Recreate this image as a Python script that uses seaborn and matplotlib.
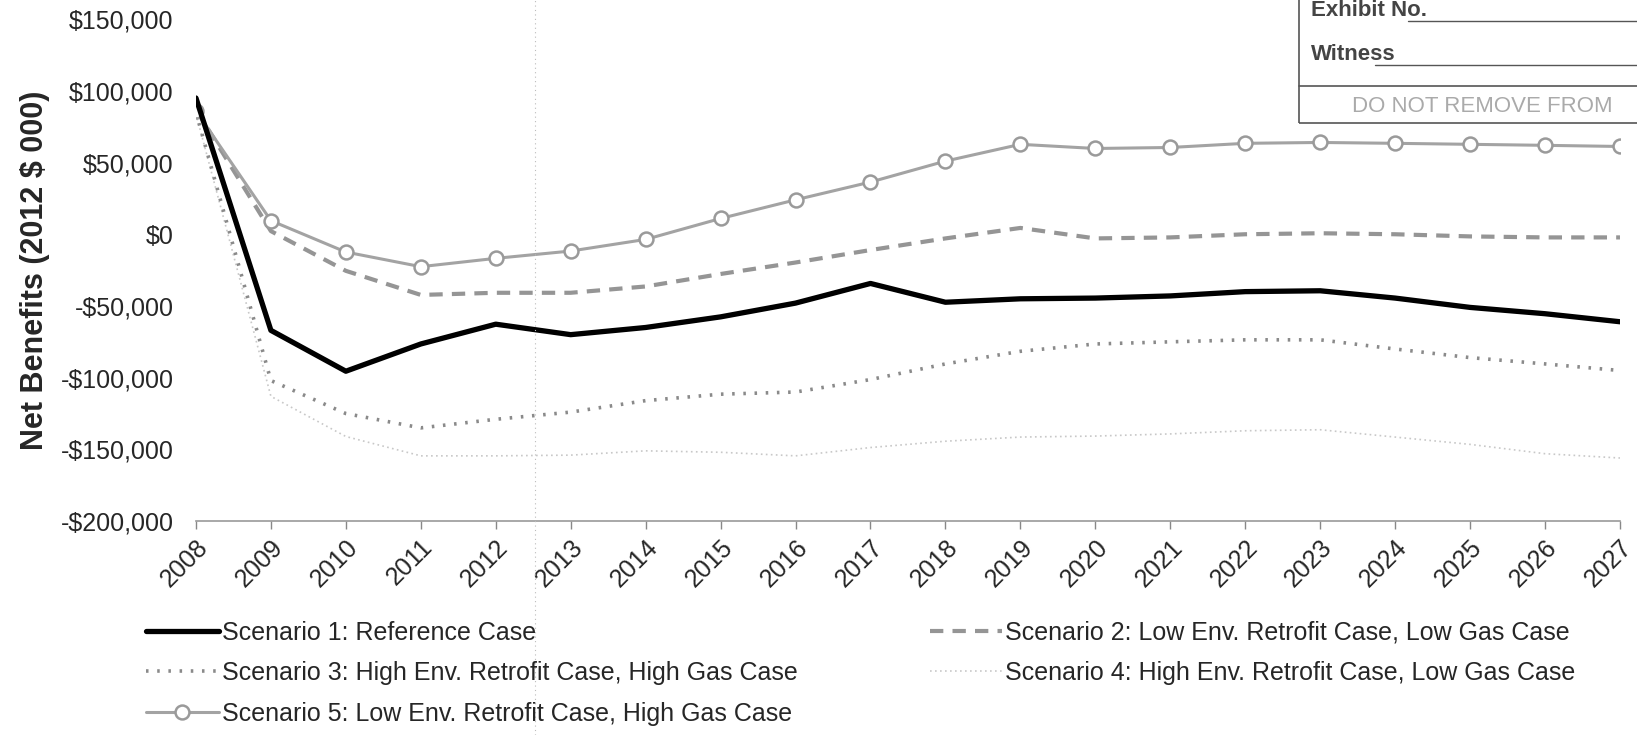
import matplotlib
matplotlib.use("Agg")
import matplotlib.pyplot as plt
import matplotlib.ticker as mticker
from matplotlib.lines import Line2D
from matplotlib.patches import Rectangle
import seaborn as sns
import pandas as pd

years = list(range(2008, 2028))

scenario1 = [95000, -67000, -95500, -76500, -62700, -70000, -65000, -57600, -48000, -34300,
             -47400, -45000, -44500, -43000, -40000, -39400, -44500, -51000, -55400, -61000]
scenario2 = [87000, 2200, -25500, -42300, -40800, -40800, -36400, -27700, -19700, -11000,
             -2900, 4400, -2900, -2200, 0, 700, 0, -1500, -2200, -2200]
scenario3 = [85000, -102000, -125000, -135000, -129000, -124000, -116000, -111500, -110000, -101300,
             -90400, -81600, -76500, -75000, -73600, -73600, -80000, -86000, -90400, -95000]
scenario4 = [84000, -113000, -141000, -154500, -154500, -154000, -151000, -152000, -154500, -148700,
             -144300, -141400, -140700, -139200, -137000, -136300, -141400, -146500, -153000, -156000]
scenario5 = [86000, 9500, -12400, -22600, -16800, -11700, -3600, 11000, 24000, 36400,
             51000, 62700, 59800, 60500, 63400, 64000, 63400, 62700, 62000, 61200]

labels = ["Scenario 1: Reference Case",
          "Scenario 2: Low Env. Retrofit Case, Low Gas Case",
          "Scenario 3: High Env. Retrofit Case, High Gas Case",
          "Scenario 4: High Env. Retrofit Case, Low Gas Case",
          "Scenario 5: Low Env. Retrofit Case, High Gas Case"]

y_ticks = [-200000, -150000, -100000, -50000, 0, 50000, 100000, 150000]

sns.set_theme(style="white")
plt.rcParams['font.family'] = ['Liberation Sans', 'DejaVu Sans']

fig = plt.figure(figsize=(16.37, 7.35), dpi=100)
ax = fig.add_axes([0.1197, 0.291, 0.8699, 0.683])

df = pd.DataFrame({"year": years, "s1": scenario1, "s2": scenario2, "s3": scenario3,
                   "s4": scenario4, "s5": scenario5})

st4 = dict(color="#c8c8c8", lw=1.2, linestyle=(0, (1, 2)))
st3 = dict(color="#8a8a8a", lw=2.6, linestyle=(0, (0.7, 2.4)))
st2 = dict(color="#959595", lw=3, linestyle=(0, (3.2, 2.2)))
st5 = dict(color="#a3a3a3", lw=2.2, marker="o", markersize=10, markerfacecolor="white",
           markeredgecolor="#9a9a9a", markeredgewidth=1.8)
st1 = dict(color="black", lw=3.8)

sns.lineplot(data=df, x="year", y="s4", ax=ax, **st4)
sns.lineplot(data=df, x="year", y="s3", ax=ax, **st3)
sns.lineplot(data=df, x="year", y="s2", ax=ax, **st2)
sns.lineplot(data=df, x="year", y="s5", ax=ax, **st5)
sns.lineplot(data=df, x="year", y="s1", ax=ax, **st1)

ax.set_xlim(2008, 2027)
ax.set_ylim(-200000, 150000)
ax.set_xticks(years)
ax.set_xticklabels([str(y) for y in years], rotation=45, ha="right",
                   rotation_mode="anchor", fontsize=18)
ax.set_yticks(y_ticks)
ax.yaxis.set_major_formatter(mticker.FuncFormatter(
    lambda v, p: ("-$" if v < 0 else "$") + f"{abs(int(v)):,}"))
ax.tick_params(axis="y", labelsize=18, length=0, pad=16)
ax.tick_params(axis="x", length=6, width=1, color="#888888", direction="out",
               bottom=True, pad=4)
ax.set_xlabel("")
ax.set_ylabel("Net Benefits (2012 $ 000)", fontsize=22, fontweight="bold", labelpad=8)
for s in ["top", "right", "left"]:
    ax.spines[s].set_visible(False)
ax.spines["bottom"].set_color("#999999")
ax.spines["bottom"].set_linewidth(1.2)
ax.grid(False)

h1 = Line2D([], [], **st1)
h2 = Line2D([], [], **st2)
h3 = Line2D([], [], **st3)
h4 = Line2D([], [], **st4)
h5 = Line2D([], [], **st5)
fig.legend([h1, h3, h5, h2, h4],
           [labels[0], labels[2], labels[4], labels[1], labels[3]],
           ncol=2, loc="lower left", bbox_to_anchor=(0.0755, -0.018),
           frameon=False, fontsize=18, handlelength=2.9, handletextpad=0.12,
           columnspacing=5.3, labelspacing=0.66)

# scan fold line
fig.add_artist(Line2D([0.327, 0.327], [0, 1], transform=fig.transFigure,
                      color="#bbbbbb", lw=0.8, linestyle=(0, (1, 3))))

# exhibit stamp
fig.add_artist(Rectangle((0.7935, 0.833), 0.25, 0.2, transform=fig.transFigure,
                         fill=False, edgecolor="#555555", lw=1.2))
fig.add_artist(Line2D([0.7935, 1.0], [0.883, 0.883], transform=fig.transFigure,
                      color="#555555", lw=1.2))
fig.add_artist(Line2D([0.84, 1.0], [0.912, 0.912], transform=fig.transFigure,
                      color="#555555", lw=1.0))
fig.add_artist(Line2D([0.86, 1.0], [0.971, 0.971], transform=fig.transFigure,
                      color="#555555", lw=1.0))
fig.text(0.801, 0.918, "Witness", fontsize=16, color="#444444", fontweight="bold")
fig.text(0.801, 0.978, "Exhibit No.", fontsize=16, color="#444444", fontweight="bold")
fig.text(0.826, 0.847, "DO NOT REMOVE FROM", fontsize=16, color="#aaaaaa")

fig.savefig("out.png", dpi=100)
